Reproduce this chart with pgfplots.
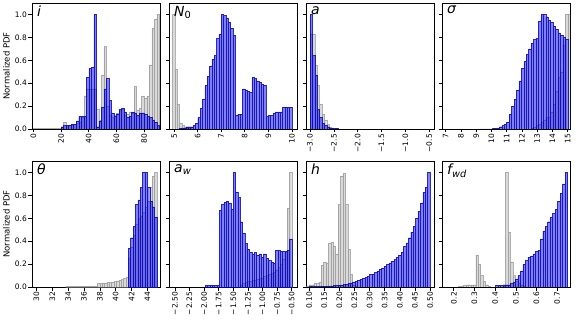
\documentclass[border=0pt]{standalone}
\usepackage{fontspec}
\setmainfont{DejaVu Sans}
\usepackage{pgfplots}
\pgfplotsset{compat=1.18}

\newcommand\ticks{\fontsize{7.5}{8}\selectfont}
\newcommand\plab{\fontsize{14}{14}\selectfont\itshape}

\pgfplotsset{
  panel/.style={
    scale only axis, width=128pt, height=126pt,
    ymin=0, ymax=1.1, ytick={0,0.2,0.4,0.6,0.8,1},
    yticklabels={},
    tick align=outside, xtick pos=bottom, ytick pos=left,
    major tick length=3.5pt,
    tick style={black, line width=0.6pt},
    axis line style={line width=0.8pt},
    xticklabel style={rotate=90, anchor=east, font=\ticks, inner sep=1.5pt},
    yticklabel style={font=\ticks, inner sep=1.5pt},
    ylabel style={font=\fontsize{8.5}{9}\selectfont},
  },
  firstcol/.style={
    yticklabels={0.0,0.2,0.4,0.6,0.8,1.0},
    ylabel={Normalized PDF},
  },
  blueh/.style={ybar interval, fill=blue, fill opacity=0.5,
    draw=blue!65!black, draw opacity=0.8, line width=0.4pt},
  grayh/.style={ybar interval, fill=gray, fill opacity=0.3,
    draw=gray, draw opacity=0.6, line width=0.4pt},
}
\newcommand\plabel[1]{\node[anchor=north west, inner sep=0pt, font=\plab]
  at (rel axis cs:0,1) [xshift=5pt, yshift=-3pt] {#1};}

\begin{document}
\begin{tikzpicture}
\useasboundingbox (0,0) rectangle (581pt,-323pt);

% ---- i
\begin{axis}[panel, firstcol, at={(32pt,-129pt)}, anchor=south west,
  xmin=-1, xmax=91.5, xtick={0,20,40,60,80}, xticklabels={0,20,40,60,80}]
\addplot[grayh] coordinates {
(0,0.005) (1.82,0.005) (3.64,0.005) (5.46,0.005) (7.28,0.005) (9.10,0.005)
(10.92,0.005) (12.74,0.005) (14.56,0.005) (16.38,0.005) (18.20,0.005)
(20.02,0.02) (21.84,0.06) (23.66,0.03) (25.48,0.03) (27.30,0.03) (29.12,0.04)
(30.94,0.05) (32.76,0.06) (34.58,0.10) (36.40,0.29) (38.22,0.35) (40.04,0.35)
(41.86,0.35) (43.68,0.35) (45.50,0.17) (47.32,0.08) (49.14,0.47) (50.96,0.72)
(52.78,0.20) (54.60,0.12) (56.42,0.10) (58.24,0.12) (60.06,0.14) (61.88,0.16)
(63.70,0.17) (65.52,0.12) (67.34,0.13) (69.16,0.15) (70.98,0.14) (72.80,0.37)
(74.62,0.16) (76.44,0.18) (78.26,0.29) (80.08,0.27) (81.90,0.29) (83.72,0.56)
(85.54,0.88) (87.36,0.96) (89.18,1.00) (91.00,1.00)
};
\addplot[blueh] coordinates {
(20.02,0.02) (21.84,0.03) (23.66,0.03) (25.48,0.03) (27.30,0.04) (29.12,0.04)
(30.94,0.07) (32.76,0.11) (34.58,0.11) (36.40,0.11) (38.22,0.45) (40.04,0.53)
(41.86,0.54) (43.68,1.00) (45.50,0.02) (47.32,0.07) (49.14,0.19) (50.96,0.35)
(52.78,0.44) (54.60,0.25) (56.42,0.14) (58.24,0.11) (60.06,0.13) (61.88,0.17)
(63.70,0.18) (65.52,0.15) (67.34,0.10) (69.16,0.11) (70.98,0.15) (72.80,0.14)
(74.62,0.12) (76.44,0.14) (78.26,0.14) (80.08,0.13) (81.90,0.11) (83.72,0.10)
(85.54,0.08) (87.36,0.06) (89.18,0.03) (91.00,0.03)
};
\plabel{i}
\end{axis}

% ---- N0
\begin{axis}[panel, at={(169pt,-129pt)}, anchor=south west,
  xmin=4.78, xmax=10.22, xtick={5,6,7,8,9,10}, xticklabels={5,6,7,8,9,10}]
\addplot[grayh] coordinates {
(4.93,1.00) (5.03,0.52) (5.13,0.22) (5.23,0.05) (5.33,0.03) (5.43,0.02)
(5.53,0.01) (5.63,0.005) (5.73,0.005)
};
\addplot[blueh] coordinates {
(5.2,0.005) (5.3,0.01) (5.4,0.01) (5.5,0.02) (5.6,0.02) (5.7,0.02) (5.8,0.03)
(5.9,0.05) (6.0,0.10) (6.1,0.18) (6.2,0.26) (6.3,0.38) (6.4,0.46) (6.5,0.55)
(6.6,0.61) (6.7,0.64) (6.8,0.79) (6.9,0.83) (7.0,1.00) (7.1,0.99) (7.2,0.97)
(7.3,0.93) (7.4,0.88) (7.5,0.82) (7.6,0.12) (7.7,0.13) (7.8,0.13) (7.9,0.35)
(8.0,0.34) (8.1,0.33) (8.2,0.32) (8.3,0.45) (8.4,0.44) (8.5,0.42) (8.6,0.41)
(8.7,0.39) (8.8,0.38) (8.9,0.11) (9.0,0.12) (9.1,0.12) (9.2,0.14) (9.3,0.15)
(9.4,0.15) (9.5,0.15) (9.6,0.19) (9.7,0.19) (9.8,0.19) (9.9,0.19) (10.0,0.19)
};
\plabel{N\textsubscript{\upshape 0}}
\end{axis}

% ---- a
\begin{axis}[panel, at={(306pt,-129pt)}, anchor=south west,
  xmin=-3.084, xmax=-0.40, xtick={-3,-2.5,-2,-1.5,-1,-0.5},
  xticklabels={−3.0,−2.5,−2.0,−1.5,−1.0,−0.5}]
\addplot[grayh] coordinates {
(-3.00,0.83) (-2.95,0.83) (-2.90,0.56) (-2.85,0.38) (-2.80,0.22) (-2.75,0.13)
(-2.70,0.08) (-2.65,0.04) (-2.60,0.02) (-2.55,0.01) (-2.50,0.005) (-2.45,0.005)
};
\addplot[blueh] coordinates {
(-3.00,1.00) (-2.95,0.64) (-2.90,0.47) (-2.85,0.17) (-2.80,0.10) (-2.75,0.05)
(-2.70,0.03) (-2.65,0.02) (-2.60,0.01) (-2.55,0.01) (-2.50,0.003) (-2.45,0.005)
(-2.40,0.005)
};
\plabel{a}
\end{axis}

% ---- sigma
\begin{axis}[panel, at={(442pt,-129pt)}, anchor=south west,
  xmin=6.76, xmax=15.15, xtick={7,8,9,10,11,12,13,14,15},
  xticklabels={7,8,9,10,11,12,13,14,15}]
\addplot[grayh] coordinates {
(12.60,0.01) (12.76,0.02) (12.92,0.03) (13.08,0.04) (13.24,0.06) (13.40,0.08)
(13.56,0.10) (13.72,0.10) (13.88,0.15) (14.04,0.22) (14.20,0.33) (14.36,0.45)
(14.52,0.50) (14.68,0.73) (14.84,1.00) (15.00,1.00) (15.15,1.00)
};
\addplot[blueh] coordinates {
(9.24,0.002) (9.40,0.002) (9.56,0.002) (9.72,0.002) (9.88,0.002) (10.04,0.003)
(10.20,0.005) (10.36,0.01) (10.52,0.02) (10.68,0.03) (10.84,0.04) (11.00,0.06)
(11.16,0.13) (11.32,0.20) (11.48,0.26) (11.64,0.34) (11.80,0.42) (11.96,0.53)
(12.12,0.59) (12.28,0.65) (12.44,0.70) (12.60,0.75) (12.76,0.78) (12.92,0.79)
(13.08,0.94) (13.24,1.00) (13.40,1.00) (13.56,0.98) (13.72,0.95) (13.88,0.93)
(14.04,0.90) (14.20,0.87) (14.36,0.84) (14.52,0.82) (14.68,0.80) (14.84,0.78)
(15.00,0.78)
};
\plabel{σ}
\end{axis}

% ---- theta
\begin{axis}[panel, firstcol, at={(32pt,-287pt)}, anchor=south west,
  xmin=29.44, xmax=45.6, xtick={30,32,34,36,38,40,42,44},
  xticklabels={30,32,34,36,38,40,42,44}]
\addplot[grayh] coordinates {
(33.8,0.005) (34.1,0.005) (34.4,0.005) (34.7,0.006) (35.0,0.006) (35.3,0.006)
(35.6,0.007) (35.9,0.007) (36.2,0.008) (36.5,0.008) (36.8,0.009) (37.1,0.01)
(37.4,0.01) (37.7,0.03) (38.0,0.03) (38.3,0.035) (38.6,0.035) (38.9,0.04)
(39.2,0.04) (39.5,0.045) (39.8,0.05) (40.1,0.055) (40.4,0.06) (40.7,0.065)
(41.0,0.075) (41.3,0.085) (41.6,0.25) (41.9,0.35) (42.2,0.45) (42.5,0.55)
(42.8,0.60) (43.1,0.62) (43.4,0.65) (43.7,0.70) (44.0,0.75) (44.3,0.87)
(44.6,0.97) (44.9,1.00) (45.2,1.00)
};
\addplot[blueh] coordinates {
(41.6,0.34) (41.9,0.43) (42.2,0.53) (42.5,0.72) (42.8,0.76) (43.1,0.87)
(43.4,1.00) (43.7,1.00) (44.0,0.87) (44.3,0.75) (44.6,0.70) (44.9,0.61)
(45.2,0.61)
};
\plabel{θ}
\end{axis}

% ---- a_w
\begin{axis}[panel, at={(169pt,-287pt)}, anchor=south west,
  xmin=-2.6, xmax=-0.41,
  xtick={-2.5,-2.25,-2,-1.75,-1.5,-1.25,-1,-0.75,-0.5},
  xticklabels={−2.50,−2.25,−2.00,−1.75,−1.50,−1.25,−1.00,−0.75,−0.50}]
\addplot[grayh] coordinates {
(-1.38,0.02) (-1.34,0.03) (-1.30,0.04) (-1.26,0.05) (-1.22,0.05) (-1.18,0.06)
(-1.14,0.06) (-1.10,0.07) (-1.06,0.08) (-1.02,0.08) (-0.98,0.09) (-0.94,0.10)
(-0.90,0.11) (-0.86,0.12) (-0.82,0.13) (-0.78,0.15) (-0.74,0.17) (-0.70,0.20)
(-0.66,0.24) (-0.62,0.30) (-0.58,0.69) (-0.54,1.00) (-0.50,1.00)
};
\addplot[blueh] coordinates {
(-1.98,0.015) (-1.94,0.015) (-1.90,0.015) (-1.86,0.015) (-1.82,0.015)
(-1.78,0.015) (-1.74,0.67) (-1.70,0.72) (-1.66,0.74) (-1.62,0.75) (-1.58,0.73)
(-1.54,0.68) (-1.50,1.00) (-1.46,0.83) (-1.42,0.78) (-1.38,0.57) (-1.34,0.47)
(-1.30,0.38) (-1.26,0.33) (-1.22,0.30) (-1.18,0.29) (-1.14,0.30) (-1.10,0.28)
(-1.06,0.29) (-1.02,0.26) (-0.98,0.29) (-0.94,0.25) (-0.90,0.23) (-0.86,0.22)
(-0.82,0.21) (-0.78,0.32) (-0.74,0.32) (-0.70,0.31) (-0.66,0.31) (-0.62,0.31)
(-0.58,0.32) (-0.54,0.42) (-0.50,0.42)
};
\plabel{a\textsubscript{w}}
\end{axis}

% ---- h
\begin{axis}[panel, at={(306pt,-287pt)}, anchor=south west,
  xmin=0.09, xmax=0.513,
  xtick={0.10,0.15,0.20,0.25,0.30,0.35,0.40,0.45,0.50},
  xticklabels={0.10,0.15,0.20,0.25,0.30,0.35,0.40,0.45,0.50}]
\addplot[grayh] coordinates {
(0.092,0.01) (0.100,0.02) (0.108,0.02) (0.116,0.03) (0.124,0.03) (0.132,0.04)
(0.140,0.19) (0.148,0.22) (0.156,0.21) (0.164,0.38) (0.172,0.39) (0.180,0.36)
(0.188,0.29) (0.196,0.72) (0.204,0.97) (0.212,0.99) (0.220,0.72) (0.228,0.33)
(0.236,0.11) (0.244,0.02) (0.252,0.01) (0.260,0.01)
};
\addplot[blueh] coordinates {
(0.100,0.003) (0.108,0.003) (0.116,0.004) (0.124,0.004) (0.132,0.005)
(0.140,0.006) (0.148,0.007) (0.156,0.008) (0.164,0.009) (0.172,0.010)
(0.180,0.012) (0.188,0.014) (0.196,0.016) (0.204,0.018) (0.212,0.021)
(0.220,0.026) (0.228,0.031) (0.236,0.037) (0.244,0.045) (0.252,0.052)
(0.260,0.060) (0.268,0.067) (0.276,0.074) (0.284,0.082) (0.292,0.090)
(0.300,0.108) (0.308,0.112) (0.316,0.125) (0.324,0.140) (0.332,0.155)
(0.340,0.168) (0.348,0.182) (0.356,0.196) (0.364,0.210) (0.372,0.225)
(0.380,0.240) (0.388,0.258) (0.396,0.278) (0.404,0.305) (0.412,0.352)
(0.420,0.385) (0.428,0.430) (0.436,0.480) (0.444,0.530) (0.452,0.600)
(0.460,0.660) (0.468,0.735) (0.476,0.825) (0.484,0.870) (0.492,1.000)
(0.500,1.000)
};
\plabel{h}
\end{axis}

% ---- f_wd
\begin{axis}[panel, at={(442pt,-287pt)}, anchor=south west,
  xmin=0.143, xmax=0.762, xtick={0.2,0.3,0.4,0.5,0.6,0.7},
  xticklabels={0.2,0.3,0.4,0.5,0.6,0.7}]
\addplot[grayh] coordinates {
(0.222,0.005) (0.234,0.01) (0.246,0.015) (0.258,0.02) (0.270,0.02) (0.282,0.02)
(0.294,0.02) (0.306,0.28) (0.318,0.20) (0.330,0.10) (0.342,0.05) (0.354,0.02)
(0.366,0.005) (0.378,0.005)
};
\addplot[grayh] coordinates {
(0.438,0.005) (0.450,1.00) (0.462,0.48) (0.474,0.22) (0.486,0.10) (0.498,0.05)
(0.510,0.03) (0.522,0.02) (0.534,0.01) (0.546,0.01)
};
\addplot[blueh] coordinates {
(0.402,0.015) (0.414,0.015) (0.426,0.015) (0.438,0.02) (0.450,0.02) (0.462,0.02)
(0.474,0.03) (0.486,0.04) (0.498,0.07) (0.510,0.10) (0.522,0.14) (0.534,0.20)
(0.546,0.23) (0.558,0.26) (0.570,0.27) (0.582,0.29) (0.594,0.31) (0.606,0.32)
(0.618,0.42) (0.630,0.49) (0.642,0.53) (0.654,0.57) (0.666,0.61) (0.678,0.64)
(0.690,0.68) (0.702,0.75) (0.714,0.82) (0.726,0.90) (0.738,1.00) (0.750,1.00)
};
\plabel{f\textsubscript{wd}}
\end{axis}
\end{tikzpicture}
\end{document}
